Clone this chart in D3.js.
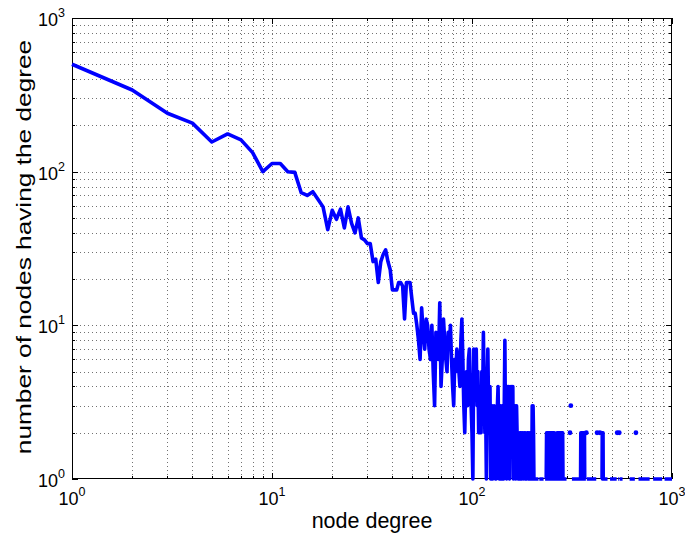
<!DOCTYPE html>
<html><head><meta charset="utf-8">
<script src="https://cdn.jsdelivr.net/npm/d3@7"></script>
<style>
body{margin:0;background:#fff}
svg{display:block}
text{font-family:"Liberation Sans",Arial,Helvetica,sans-serif;fill:#000}
</style>
</head><body>
<svg id="chart" width="685" height="536"></svg>
<script>
// counts for degree 1..206 (index 0 = degree 1)
const headCounts = [
 500,340,240,207,156,176,161,133,100,113,
 113,100,99,73,70,74,66,59,42,56,
 49,57,43,59,46,40,50,37,36,34,
 34,26,27,19,26,29,31,26,23,17,
 17,17,19,19,18,11,19,19,19,15,
 12,12,10,8,6,13,9,7,11,10,
 7,6,10,5,3,9,8,6,14,4,
 6,11,8,6,5,9,7,10,6,4,
 3,6,5,7,6,5,4,8,11,6,
 3,2,4,5,3,6,7,4,3,2,
 1,7,4,6,7,3,5,2,4,3,
 2,5,3,9,4,2,3,1,4,7,
 3,2,4,1,2,3,1,2,3,2,
 1,1,2,3,4,2,1,2,3,1,
 2,3,2,1,3,8,2,3,1,4,
 2,4,3,1,4,2,3,4,2,4,
 1,3,2,3,1,2,3,2,2,1,
 2,1,1,2,1,1,2,1,2,2,
 1,2,2,1,2,1,1,1,2,2,
 1,2,2,1,2,2,1,1,1,3,
 1,3,2,1,1,1
];
// runs of degrees (> 206) having exactly one node
const oneRunStarts = [207,217,232,316,375,446,490,538,547,614,680,805,918];
const oneRunEnds   = [215,228,297,371,418,476,529,543,566,652,773,893,1000];
// other degrees (> 206) with more than one node
const tailDegrees = [236,238,240,242,244,248,250,252,254,256,258,266,268,270,272,274,276,278,280,282,284,
                     309,312,350,353,356,359,362,365,373,422,436,448,450,452,532,545,660];
const tailCounts  = [2,2,2,2,2,2,2,2,2,2,2,2,2,2,2,2,2,2,2,2,2,
                     2,3,2,2,2,2,2,2,2,2,2,2,2,2,2,2,2];
const xTickValues = [1,10,100,1000];
const yTickValues = [1,10,100,1000];
const tickExponents = ["0","1","2","3"];
const xLabel = "node degree";
const yLabel = "number of nodes having the degree";

const svg = d3.select("#chart");
const L=72, R=672, T=18, B=479;
const x = d3.scaleLog().domain([1,1000]).range([L,R]);
const y = d3.scaleLog().domain([1,1000]).range([B,T]);

// build series
const countByDeg = new Map();
headCounts.forEach((c,i)=>{ if(c>0) countByDeg.set(i+1,c); });
oneRunStarts.forEach((s,i)=>{ for(let d=s; d<=oneRunEnds[i]; d++) countByDeg.set(d,1); });
tailDegrees.forEach((d,i)=>countByDeg.set(d,tailCounts[i]));
const series = d3.range(1,1001).map(d=>({d, c: countByDeg.get(d)||0}));

// grid values (major + minor)
const gridVals = [];
[1,10,100].forEach(p=>{ for(let k=1;k<=9;k++) gridVals.push(p*k); });
gridVals.push(1000);

const grid = svg.append("g").attr("stroke","#000").attr("stroke-width",1).attr("stroke-dasharray","1,3").attr("opacity",0.55);
gridVals.forEach(v=>{
  const xv = Math.round(x(v))+0.5;
  if (v>1 && v<1000) grid.append("line").attr("x1",xv).attr("x2",xv).attr("y1",T).attr("y2",B);
  const yv = Math.round(y(v))+0.5;
  if (v>1 && v<1000) grid.append("line").attr("x1",L).attr("x2",R).attr("y1",yv).attr("y2",yv);
});

// axes box and ticks
const ax = svg.append("g").attr("stroke","#000").attr("stroke-width",1);
ax.append("rect").attr("x",L+0.5).attr("y",T+0.5).attr("width",R-L-1).attr("height",B-T-1).attr("fill","none");
gridVals.forEach(v=>{
  const major = (v===1||v===10||v===100||v===1000);
  const len = major?6:3;
  const xv = Math.round(x(v))+0.5, yv = Math.round(y(v))+0.5;
  ax.append("line").attr("x1",xv).attr("x2",xv).attr("y1",B).attr("y2",B-len);
  ax.append("line").attr("x1",xv).attr("x2",xv).attr("y1",T).attr("y2",T+len);
  ax.append("line").attr("y1",yv).attr("y2",yv).attr("x1",L).attr("x2",L+len);
  ax.append("line").attr("y1",yv).attr("y2",yv).attr("x1",R).attr("x2",R-len);
});

// data line
const line = d3.line().defined(p=>p.c>0).x(p=>x(p.d)).y(p=>y(p.c));
svg.append("path").datum(series).attr("d",line)
  .attr("fill","none").attr("stroke","#0000ff").attr("stroke-width",3.6)
  .attr("stroke-linejoin","round").attr("stroke-linecap","butt");
// isolated points
const isolated = series.filter((p,i)=>p.c>0 && !(series[i-1]&&series[i-1].c>0) && !(series[i+1]&&series[i+1].c>0));
svg.append("g").selectAll("circle").data(isolated).join("circle")
  .attr("cx",p=>x(p.d)).attr("cy",p=>y(p.c)).attr("r",2.4).attr("fill","#0000ff");

// tick labels
xTickValues.forEach((v,i)=>{
  const t = svg.append("text").attr("x",x(v)).attr("y",505).attr("text-anchor","middle").attr("font-size",18);
  t.append("tspan").text("10");
  t.append("tspan").attr("dy",-9).attr("font-size",12.5).text(tickExponents[i]);
});
yTickValues.forEach((v,i)=>{
  const t = svg.append("text").attr("x",65).attr("y",y(v)+8).attr("text-anchor","end").attr("font-size",18);
  t.append("tspan").text("10");
  t.append("tspan").attr("dy",-9).attr("font-size",12.5).text(tickExponents[i]);
});

svg.append("text").attr("x",372).attr("y",528).attr("text-anchor","middle").attr("font-size",21.5).text(xLabel);
svg.append("text").attr("transform","translate(31,247) rotate(-90) scale(1.25,1)").attr("text-anchor","middle").attr("font-size",21).text(yLabel);
</script>
</body></html>
